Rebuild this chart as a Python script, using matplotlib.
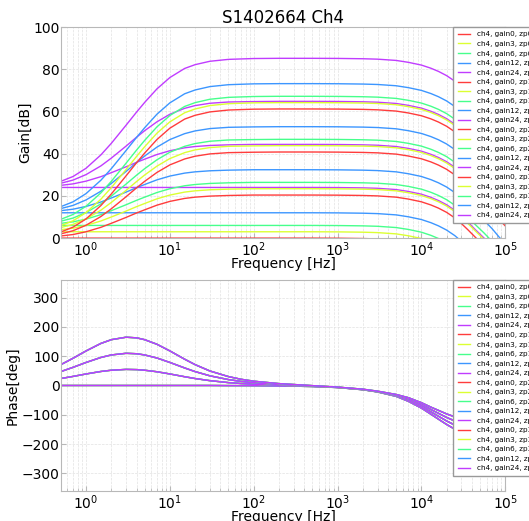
import numpy as np
import matplotlib
matplotlib.use('Agg')
import matplotlib.pyplot as plt

# frequency points [Hz] read along the x axis
freq = [0.5, 0.7, 1, 1.5, 2, 3, 4, 5, 7, 10, 15, 20, 30, 50, 70, 100, 200, 500,
        1000, 2000, 3000, 5000, 7000, 10000, 13000, 16000, 20000, 25000, 30000,
        36000, 44000, 56000, 70000, 85000, 100000]

gains = [0, 3, 6, 12, 24]
zps = [0, 1, 2, 3]
colors = ['#ff3c3c', '#dcff32', '#46ff8c', '#3c96ff', '#c03cff']

# gain shape of each zp setting [dB], before the high-frequency roll-off
zp_gain = {
    0: [0.0] * 35,
    1: [1.0, 1.7, 3.0, 5.1, 7.0, 9.8, 11.9, 13.4, 15.6, 17.4, 18.8, 19.4, 19.9, 20.2,
        20.3, 20.4, 20.4, 20.4, 20.4, 20.4, 20.4, 20.4, 20.4, 20.4, 20.4, 20.4, 20.4,
        20.4, 20.4, 20.4, 20.4, 20.4, 20.4, 20.4, 20.4],
    2: [2.0, 3.5, 6.1, 10.2, 13.9, 19.6, 23.8, 26.9, 31.1, 34.7, 37.5, 38.8, 39.9, 40.5,
        40.6, 40.7, 40.8, 40.8, 40.8, 40.8, 40.8, 40.8, 40.8, 40.8, 40.8, 40.8, 40.8,
        40.8, 40.8, 40.8, 40.8, 40.8, 40.8, 40.8, 40.8],
    3: [2.9, 5.2, 9.1, 15.4, 20.9, 29.5, 35.7, 40.3, 46.7, 52.1, 56.4, 58.2, 59.8, 60.7,
        60.9, 61.1, 61.2, 61.2, 61.2, 61.2, 61.2, 61.2, 61.2, 61.2, 61.2, 61.2, 61.2,
        61.2, 61.2, 61.2, 61.2, 61.2, 61.2, 61.2, 61.2],
}
# common high-frequency gain roll-off [dB]
rolloff_gain = [0, 0, 0, 0, 0, 0, 0, 0, 0, 0, 0, 0, 0, 0, 0, 0, 0, 0,
                -0.05, -0.2, -0.4, -1.0, -1.9, -3.2, -4.7, -6.2, -8.2, -10.8, -13.5,
                -16.5, -20.0, -24.0, -28.0, -32.0, -35.0]

# phase lead of each zp setting [deg]
zp_phase = {
    0: [0.0] * 35,
    1: [23.7, 31.0, 39.3, 47.8, 52.1, 54.9, 54.2, 52.1, 46.9, 39.3, 29.9, 23.7, 16.5,
        10.2, 7.3, 5.1, 2.6, 1.0, 0.5, 0.3, 0.2, 0.1, 0.1, 0.1, 0, 0, 0, 0, 0, 0, 0,
        0, 0, 0, 0],
    2: [47.4, 62.0, 78.6, 95.6, 104.2, 109.8, 108.4, 104.2, 93.8, 78.6, 59.8, 47.4,
        33.0, 20.4, 14.6, 10.2, 5.2, 2.0, 1.0, 0.6, 0.4, 0.2, 0.2, 0.2, 0, 0, 0, 0, 0,
        0, 0, 0, 0, 0, 0],
    3: [71.1, 93.0, 117.9, 143.4, 156.3, 164.7, 162.6, 156.3, 140.7, 117.9, 89.7,
        71.1, 49.5, 30.6, 21.9, 15.3, 7.8, 3.0, 1.5, 0.9, 0.6, 0.3, 0.3, 0.3, 0, 0, 0,
        0, 0, 0, 0, 0, 0, 0, 0],
}
# high-frequency phase roll-off per zp setting [deg]
rolloff_phase = {
    0: [0] * 13 + [-0.4, -0.5, -0.7, -1.4, -3.5, -7, -14.5, -22, -37, -54, -77, -98,
                   -115, -133, -149, -163, -176, -191, -211, -231, -248, -263],
    1: [0] * 13 + [-0.4, -0.5, -0.7, -1.4, -3.5, -7, -14, -21.5, -35, -50, -71, -90,
                   -105, -121, -135, -148, -160, -174, -193, -212, -229, -244],
    2: [0] * 13 + [-0.3, -0.5, -0.7, -1.4, -3.5, -7, -14, -21, -33, -46, -65, -82,
                   -95, -109, -121, -132, -144, -158, -175, -194, -211, -226],
    3: [0] * 13 + [-0.3, -0.5, -0.7, -1.4, -3.5, -7, -13.5, -20, -31, -42, -59, -74,
                   -85, -97, -107, -117, -128, -141, -158, -176, -192, -207],
}

fig = plt.figure(figsize=(5.29, 5.21), dpi=100)
ax1 = fig.add_axes([0.115, 0.543, 0.84, 0.405])
ax2 = fig.add_axes([0.115, 0.0576, 0.84, 0.405])

f = np.array(freq)
for zp in zps:
    for g, c in zip(gains, colors):
        lab = f'ch4, gain{g}, zp{zp}'
        mag = g + np.array(zp_gain[zp]) + np.array(rolloff_gain)
        ph = np.array(zp_phase[zp]) + np.array(rolloff_phase[zp])
        ax1.plot(f, mag, color=c, lw=1, label=lab)
        ax2.plot(f, ph, color=c, lw=1, label=lab)

for ax in (ax1, ax2):
    ax.set_xscale('log')
    ax.set_xlim(0.5, 1e5)
    ax.grid(True, which='both', ls='--', lw=0.5, color='#e2e2e2')
    for sp in ax.spines.values():
        sp.set_color('#b8b8b8')
    ax.tick_params(which='both', direction='in', color='#b8b8b8', labelsize=10)
    ax.tick_params(axis='x', which='both', pad=1.5)
    ax.tick_params(axis='y', which='both', pad=1)
    ax.set_xlabel('Frequency [Hz]', fontsize=10, labelpad=-1)
    ax.legend(loc='upper left', bbox_to_anchor=(0.883, 1.0), fontsize=5.2,
              handlelength=1.7, handletextpad=1.0, borderaxespad=0, borderpad=0.6,
              framealpha=1, edgecolor='#999999', fancybox=False, labelspacing=0.48)

ax1.set_ylim(0, 100)
ax1.set_yticks([0, 20, 40, 60, 80, 100])
ax1.set_ylabel('Gain[dB]', fontsize=10, labelpad=1)
ax1.set_title('S1402664 Ch4', fontsize=12, pad=2)

ax2.set_ylim(-360, 360)
ax2.set_yticks([-300, -200, -100, 0, 100, 200, 300])
ax2.set_ylabel('Phase[deg]', fontsize=10, labelpad=1)

plt.savefig('out.png', dpi=100)
